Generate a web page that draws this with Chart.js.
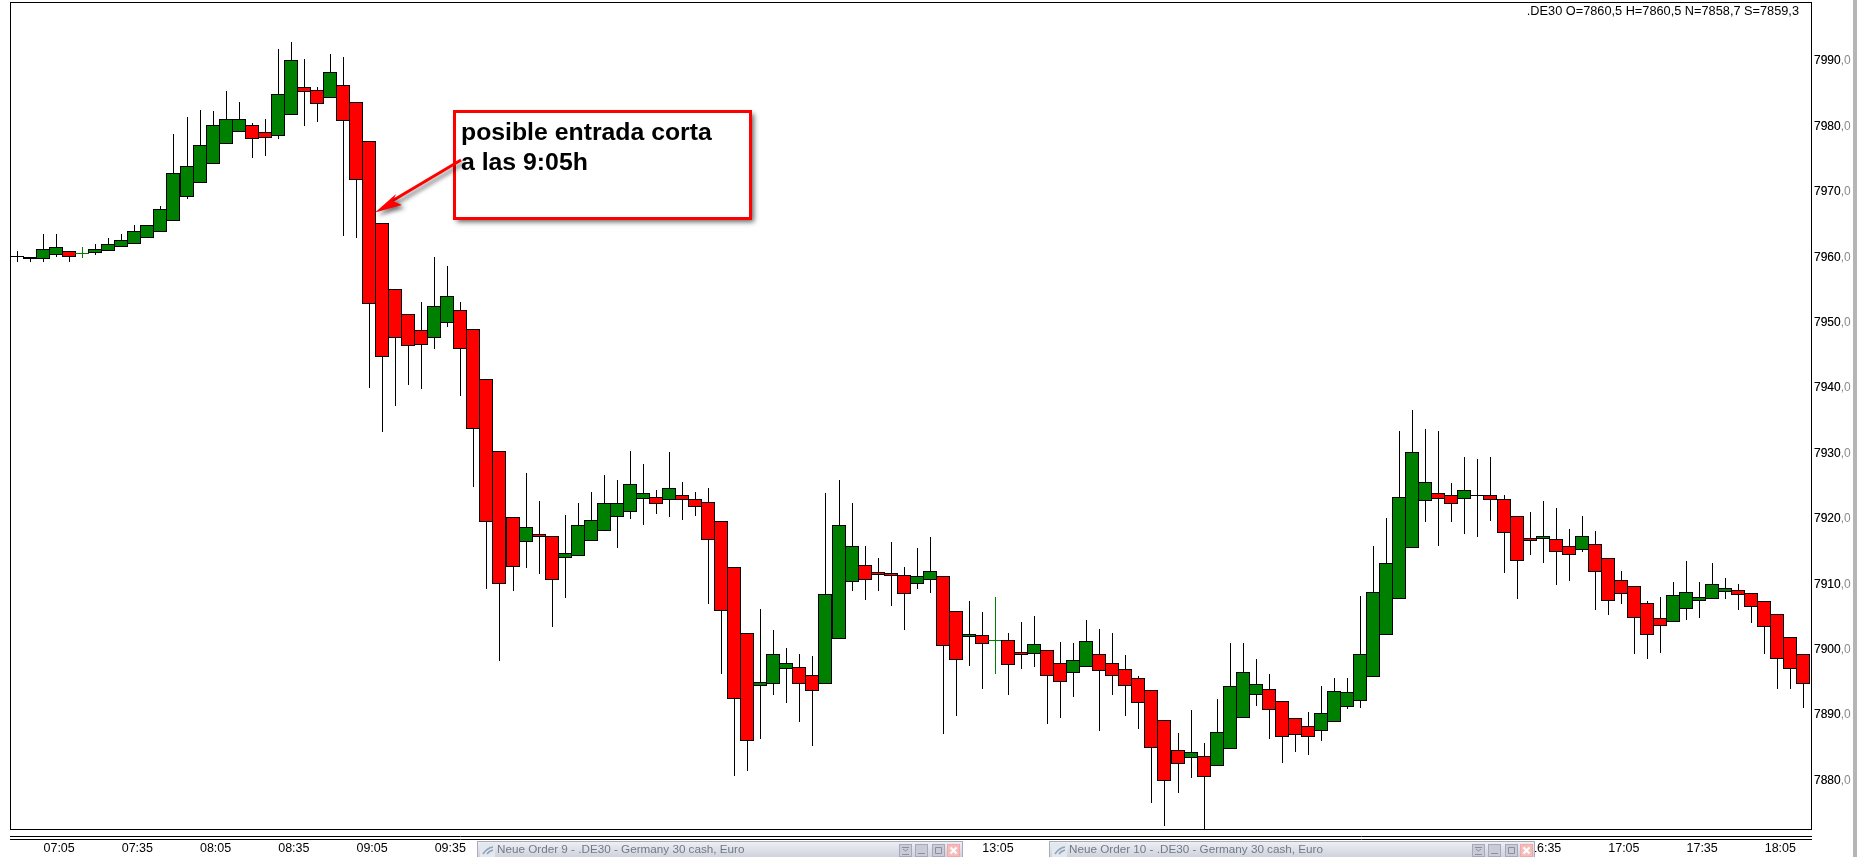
<!DOCTYPE html>
<html>
<head>
<meta charset="utf-8">
<title>.DE30</title>
<style>html,body{margin:0;padding:0;background:#fff;overflow:hidden}canvas{display:block}</style>
<script src="https://cdn.jsdelivr.net/npm/chart.js@4/dist/chart.umd.min.js"></script>
</head>
<body>
<canvas id="c" width="1857" height="857"></canvas>
<script>
const opens=[7960.0,7960.0,7959.8,7960.4,7960.9,7960.55,7960.6,7960.9,7961.5,7962.0,7962.9,7963.8,7965.5,7969.2,7971.4,7974.2,7977.3,7979.1,7980.2,7979.1,7978.6,7981.7,7986.0,7985.5,7984.4,7986.4,7983.7,7977.7,7965.2,7955.1,7951.3,7948.8,7947.6,7950.0,7952.0,7949.0,7941.3,7930.3,7920.2,7916.4,7917.6,7917.3,7914.0,7914.3,7916.6,7918.1,7920.2,7921.1,7923.1,7923.4,7922.8,7923.7,7923.1,7922.5,7919.6,7912.7,7902.5,7894.4,7894.7,7897.0,7897.3,7896.1,7894.7,7901.6,7910.3,7913.0,7911.9,7911.7,7911.4,7910.0,7910.6,7911.2,7905.9,7902.0,7902.2,7901.35,7901.4,7899.7,7899.3,7900.0,7897.9,7896.4,7897.3,7899.3,7897.9,7897.0,7895.6,7893.8,7889.3,7884.6,7883.5,7883.8,7882.2,7884.8,7889.6,7893.0,7893.9,7892.2,7889.5,7888.3,7887.5,7888.9,7891.2,7892.2,7895.8,7902.2,7907.7,7915.5,7922.7,7924.0,7923.6,7923.0,7923.5,7923.7,7923.1,7920.5,7917.1,7916.85,7916.9,7915.8,7915.2,7916.2,7914.0,7910.7,7909.7,7907.1,7904.8,7904.2,7906.2,7907.4,7907.7,7908.8,7909.1,7908.6,7907.5,7905.4,7901.9,7899.4];
const closes=[7960.2,7959.7,7961.2,7961.5,7960.1,7960.65,7961.2,7962.0,7962.6,7964.0,7964.9,7967.3,7972.8,7973.9,7977.1,7980.2,7981.1,7981.2,7978.0,7978.2,7984.9,7990.1,7985.2,7983.5,7988.3,7980.9,7971.8,7952.8,7944.8,7947.6,7946.4,7946.5,7952.5,7954.0,7945.9,7933.8,7919.5,7910.0,7912.6,7918.7,7917.15,7910.6,7914.7,7919.0,7919.8,7922.4,7922.4,7925.3,7923.9,7922.2,7924.7,7922.8,7921.8,7916.7,7905.9,7892.4,7886.1,7895.0,7899.3,7897.9,7894.7,7893.6,7908.5,7919.0,7915.8,7910.7,7911.45,7911.25,7908.5,7911.2,7912.0,7900.5,7898.4,7902.4,7900.8,7901.45,7897.6,7899.25,7900.8,7895.9,7895.0,7898.4,7901.3,7896.7,7895.9,7894.4,7891.9,7884.9,7879.9,7882.5,7884.3,7880.5,7887.4,7894.5,7896.5,7894.7,7890.7,7886.7,7887.0,7886.7,7890.3,7893.6,7893.5,7899.3,7908.8,7913.2,7923.3,7930.2,7925.6,7923.1,7922.2,7924.4,7923.7,7922.8,7917.9,7913.6,7916.65,7917.3,7914.9,7914.4,7917.3,7911.8,7907.4,7908.5,7904.8,7902.3,7903.6,7908.3,7908.8,7908.0,7910.0,7909.4,7908.3,7906.5,7903.4,7898.5,7897.0,7894.8];
const highs=[7960.9,7960.0,7963.5,7963.5,7960.9,7961.5,7962.0,7962.9,7963.5,7964.9,7964.9,7967.8,7978.9,7981.5,7982.5,7982.3,7985.4,7983.8,7980.5,7981.2,7991.8,7992.9,7990.3,7986.0,7991.0,7990.6,7983.7,7977.7,7965.2,7955.1,7951.3,7953.1,7960.0,7958.6,7953.1,7949.0,7941.3,7930.3,7920.2,7927.0,7922.7,7917.3,7920.6,7922.4,7924.1,7926.7,7925.9,7930.4,7928.4,7924.4,7930.2,7925.6,7924.1,7924.7,7919.6,7912.7,7902.5,7906.2,7903.0,7900.2,7899.4,7899.0,7924.0,7925.9,7922.4,7915.9,7914.0,7916.4,7912.6,7915.5,7917.2,7911.2,7905.9,7907.4,7905.7,7908.0,7902.5,7904.2,7905.1,7900.0,7901.1,7901.0,7904.5,7903.1,7902.5,7899.1,7895.9,7893.8,7889.3,7887.2,7890.7,7885.7,7892.4,7901.0,7901.0,7898.5,7896.2,7892.2,7889.5,7890.4,7894.4,7895.6,7895.6,7908.2,7915.9,7920.1,7933.5,7936.6,7933.8,7933.4,7925.4,7929.4,7929.1,7929.4,7923.6,7920.5,7921.1,7922.7,7921.6,7918.5,7920.5,7918.1,7914.0,7912.0,7909.7,7907.4,7908.0,7910.4,7913.6,7910.4,7913.3,7910.9,7910.0,7908.6,7907.5,7905.4,7901.9,7899.4];
const lows=[7959.3,7959.3,7959.3,7960.0,7959.3,7959.9,7960.3,7960.9,7961.5,7962.0,7962.9,7963.8,7965.5,7968.9,7971.4,7974.2,7977.3,7979.1,7975.2,7975.5,7978.0,7981.7,7980.0,7980.7,7984.4,7963.3,7963.0,7940.0,7933.3,7937.3,7940.5,7939.9,7945.9,7949.4,7938.8,7924.9,7909.3,7898.2,7909.0,7912.5,7911.6,7903.5,7907.9,7914.3,7916.6,7918.1,7915.6,7920.0,7919.0,7920.8,7920.3,7919.8,7920.4,7907.0,7896.2,7880.6,7881.5,7886.4,7893.1,7891.9,7889.0,7885.2,7894.7,7901.6,7909.0,7907.6,7909.0,7906.6,7903.0,7909.3,7908.6,7887.1,7889.9,7897.5,7893.9,7896.2,7893.1,7897.1,7897.4,7888.7,7889.6,7892.7,7897.3,7887.5,7893.0,7889.9,7887.9,7876.6,7873.1,7878.0,7880.4,7872.6,7882.2,7884.8,7889.6,7891.4,7886.4,7882.6,7884.4,7883.9,7886.1,7888.9,7890.9,7891.0,7895.8,7902.2,7907.7,7915.5,7919.5,7915.9,7919.5,7917.6,7917.2,7919.6,7911.7,7907.7,7914.4,7913.2,7909.9,7910.5,7914.9,7906.0,7905.3,7906.9,7899.4,7898.5,7899.5,7904.2,7904.5,7904.9,7907.7,7907.7,7906.1,7904.1,7899.4,7893.9,7894.0,7891.1];
const timeLabels=['07:05','07:35','08:05','08:35','09:05','09:35','10:05','10:35','11:05','11:35','12:05','12:35','13:05','13:35','14:05','14:35','15:05','15:35','16:05','16:35','17:05','17:35','18:05'];
const firstLabelBar=3, barsPerLabel=6;
const priceTicks=[7880,7890,7900,7910,7920,7930,7940,7950,7960,7970,7980,7990];
const headerText='.DE30 O=7860,5 H=7860,5 N=7858,7 S=7859,3';
const calloutLines=['posible entrada corta','a las 9:05h'];
const orderTabs=['Neue Order 9 - .DE30 - Germany 30 cash, Euro','Neue Order 10 - .DE30 - Germany 30 cash, Euro'];

const RED='#ff0000', GREEN='#008000', FONT='"Liberation Sans", Arial, sans-serif';
const isFlat=i=>Math.abs(closes[i]-opens[i])<0.15;
const wickData=highs.map((h,i)=>({x:i,y:[lows[i],h]}));
const bodyData=opens.map((o,i)=>({x:i,y:[o,closes[i]]}));

function fmt(v){return v.toFixed(1).replace('.',',');}

const crispBars={id:'crispBars',afterDatasetsUpdate(chart){
  chart.getDatasetMeta(0).data.forEach(el=>{
    el.x=Math.round(el.x);el.y=Math.round(el.y);el.base=Math.round(el.base);
  });
  chart.getDatasetMeta(1).data.forEach(el=>{
    el.x=Math.round(el.x)+0.5;el.y=Math.round(el.y);el.base=Math.round(el.base);
  });
}};

function drawTab(ctx,x,w,text,btn){
  const y=841,h=16;
  const g=ctx.createLinearGradient(0,y,0,y+h);
  g.addColorStop(0,'#f0f1f6');g.addColorStop(1,'#cfd1dc');
  ctx.fillStyle=g;ctx.fillRect(x,y,w,h);
  ctx.fillStyle='#a9adbb';ctx.fillRect(x,y,w,1);ctx.fillRect(x,y,1,h);ctx.fillRect(x+w-1,y,1,h);
  ctx.fillStyle='#e3e8ef';ctx.fillRect(x+3,y+2,15,14);
  ctx.strokeStyle='#8fa3b8';ctx.lineWidth=1.6;ctx.beginPath();
  ctx.moveTo(x+6,y+13);ctx.quadraticCurveTo(x+10,y+7,x+16,y+6);ctx.moveTo(x+10,y+13);ctx.quadraticCurveTo(x+12,y+10,x+16,y+9);ctx.stroke();
  ctx.fillStyle='#6f7a86';ctx.font='11.7px '+FONT;ctx.textAlign='left';ctx.textBaseline='middle';
  ctx.fillText(text,x+20,y+9);
  btn.forEach((bx,k)=>{
    const by=y+3,bw=13,bh=13;
    ctx.fillStyle=k===3?'#f6bcbc':'#c9ccd8';ctx.fillRect(bx,by,bw,bh);
    ctx.strokeStyle=k===3?'#eaa':'#a5a9b8';ctx.lineWidth=1;ctx.strokeRect(bx+.5,by+.5,bw-1,bh-1);
    ctx.strokeStyle=k===3?'#fff':'#8a8f9e';ctx.lineWidth=k===3?2:1;ctx.beginPath();
    if(k===0){ctx.moveTo(bx+3,by+3.5);ctx.lineTo(bx+10,by+3.5);ctx.moveTo(bx+4,by+5);ctx.lineTo(bx+6.5,by+7);ctx.lineTo(bx+9,by+5);ctx.moveTo(bx+3,by+10.5);ctx.lineTo(bx+10,by+10.5);}
    if(k===1){ctx.moveTo(bx+3,by+9.5);ctx.lineTo(bx+10,by+9.5);}
    if(k===2){ctx.rect(bx+3.5,by+3.5,6,6);}
    if(k===3){ctx.moveTo(bx+3.5,by+3.5);ctx.lineTo(bx+9.5,by+9.5);ctx.moveTo(bx+9.5,by+3.5);ctx.lineTo(bx+3.5,by+9.5);}
    ctx.stroke();
  });
}

const decor={id:'decor',afterDraw(chart){
  const ctx=chart.ctx,a=chart.chartArea,yS=chart.scales.y;
  ctx.save();
  /* frame and double rule */
  ctx.strokeStyle='#000';ctx.lineWidth=1;
  ctx.strokeRect(Math.round(a.left)+.5,Math.round(a.top)+.5,Math.round(a.right-a.left),Math.round(a.bottom-a.top));
  ctx.beginPath();
  [836.5,839.5].forEach(y=>{ctx.moveTo(10,y);ctx.lineTo(1812,y);});
  ctx.stroke();
  /* black integer part over the grey price label */
  ctx.fillStyle='#000';ctx.font='12px '+FONT;ctx.textAlign='left';ctx.textBaseline='middle';
  priceTicks.forEach(v=>ctx.fillText(String(v),1814,yS.getPixelForValue(v)));
  /* header */
  ctx.font='12.75px '+FONT;ctx.textAlign='right';ctx.fillText(headerText,1799,11);
  /* window edge */
  ctx.fillStyle='#b5b5b5';ctx.fillRect(1853,0,4,857);
  /* order tabs */
  drawTab(ctx,477,486,orderTabs[0],[899,915,932,947]);
  drawTab(ctx,1049,486,orderTabs[1],[1472,1488,1505,1520]);
  /* callout */
  ctx.save();
  ctx.shadowColor='rgba(0,0,0,.6)';ctx.shadowBlur=5;ctx.shadowOffsetX=3;ctx.shadowOffsetY=3;
  ctx.fillStyle='#fff';ctx.fillRect(454,111,297,108);
  ctx.restore();
  ctx.strokeStyle=RED;ctx.lineWidth=3;ctx.strokeRect(454.5,111.5,296,107);
  ctx.fillStyle='#000';ctx.font='bold 24.8px '+FONT;ctx.textAlign='left';ctx.textBaseline='alphabetic';
  ctx.fillText(calloutLines[0],461,140);ctx.fillText(calloutLines[1],461,170);
  /* arrow */
  ctx.save();
  ctx.shadowColor='rgba(0,0,0,.55)';ctx.shadowBlur=4;ctx.shadowOffsetX=3;ctx.shadowOffsetY=3;
  ctx.fillStyle=RED;ctx.strokeStyle=RED;ctx.lineWidth=3;
  ctx.beginPath();ctx.moveTo(461,160);ctx.lineTo(392,201);ctx.stroke();
  ctx.beginPath();ctx.moveTo(375,212.5);ctx.lineTo(396,194);ctx.lineTo(393,201);ctx.lineTo(402,205);ctx.closePath();ctx.fill();
  ctx.restore();
  ctx.restore();
}};

new Chart(document.getElementById('c').getContext('2d'),{
  type:'bar',
  plugins:[crispBars,decor],
  data:{datasets:[
    {label:'body',order:1,data:bodyData,barThickness:14,borderWidth:1,borderSkipped:false,grouped:false,inflateAmount:0,
      backgroundColor:opens.map((o,i)=>closes[i]>=o?GREEN:RED),
      borderColor:opens.map((o,i)=>isFlat(i)?GREEN:'#000')},
    {label:'wick',order:2,data:wickData,barThickness:1,borderWidth:0,grouped:false,inflateAmount:0,
      backgroundColor:opens.map((o,i)=>isFlat(i)?GREEN:'#000')}
  ]},
  options:{
    responsive:false,animation:false,events:[],
    layout:{padding:{left:10,top:2,right:0,bottom:0}},
    plugins:{legend:{display:false},tooltip:{enabled:false},title:{display:false}},
    scales:{
      x:{type:'linear',position:'bottom',offset:false,min:-0.537,max:137.58,
        grid:{display:false,drawTicks:false},border:{display:false},
        afterBuildTicks(s){s.ticks=timeLabels.map((t,k)=>({value:firstLabelBar+k*barsPerLabel}));},
        afterFit(s){s.height=28;s.paddingLeft=0;s.paddingRight=0;},
        ticks:{autoSkip:false,maxRotation:0,minRotation:0,padding:12,labelOffset:3,color:'#000',
          font:{family:FONT,size:12.5},
          callback:v=>timeLabels[Math.round((v-firstLabelBar)/barsPerLabel)]}},
      y:{type:'linear',position:'right',min:7872.57,max:7999.02,
        grid:{display:false,drawTicks:false},border:{display:false},
        afterBuildTicks(s){s.ticks=priceTicks.map(v=>({value:v}));},
        afterFit(s){s.width=46;s.paddingTop=0;s.paddingBottom=0;},
        ticks:{padding:3,color:'#8a8a8a',font:{family:FONT,size:12},callback:v=>fmt(v)}}
    }
  }
});
</script>
</body>
</html>
